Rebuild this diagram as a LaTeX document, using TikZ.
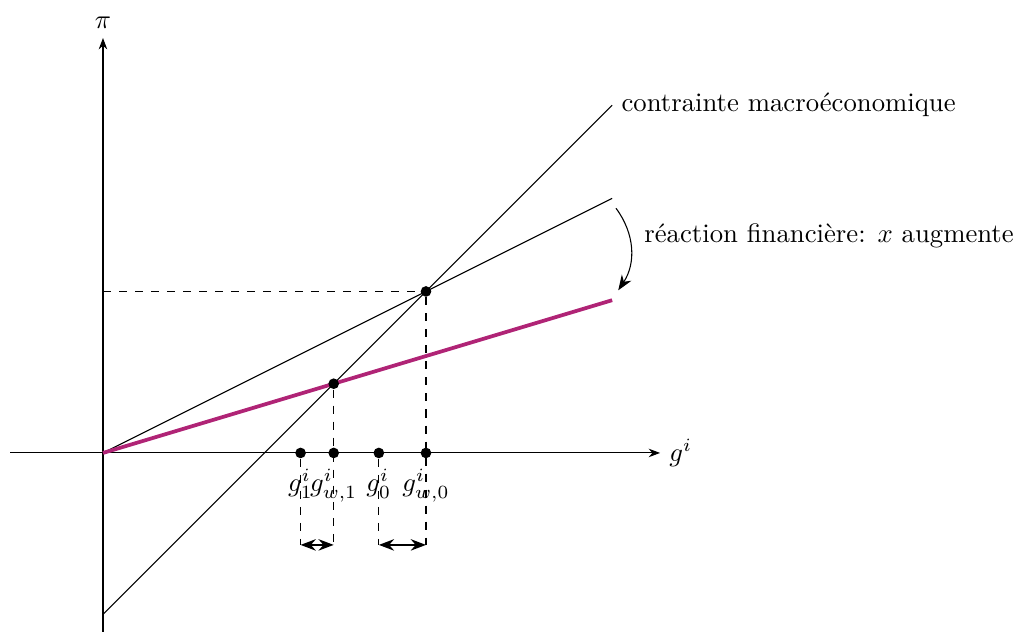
\documentclass[tikz,border=0pt]{standalone}
\usepackage{amsmath,amssymb}
\usepackage{tikz}
\usetikzlibrary{arrows.meta, positioning, calc}

\definecolor{finpurple}{RGB}{176,36,118}

\begin{document}
\begin{tikzpicture}[
    axis/.style={-{Stealth[length=1.5mm]}},
    guide/.style={dashed},
    dot/.style={circle, fill=black, inner sep=0pt, minimum size=1.4mm},
    gap/.style={{Stealth[length=2mm]}-{Stealth[length=2mm]}, thick},
    react/.style={draw=finpurple, line width=1.4pt}
]
\useasboundingbox (-1.355,-2.355) rectangle (12.04,5.96);

% axes
\coordinate (O) at (0,0);
\draw[axis] (-1.22,0) -- (7.33,0) node[right] (gaxis) {$g^i$};
\draw[axis] (0,-2.355) -- (0,5.46) node[above] (piaxis) {$\pi$};

% lines
\coordinate (macroStart) at (0,-2.125);
\coordinate (macroEnd) at (6.7,4.575);
\coordinate (upEnd) at (6.7,3.35);
\coordinate (lowEnd) at (6.7,2.01);
\coordinate (A) at (4.25,2.125);
\coordinate (B) at (3.036,0.911);

\draw (macroStart) -- (macroEnd) node[right] (macro) {contrainte macro\'economique};
\draw (O) -- (upEnd);
\draw[react] (O) -- (lowEnd);

% points on the axis
\node[dot] (pA) at (A) {};
\node[dot] (pB) at (B) {};
\node[dot] (g1) at (2.6,0) {};
\node[dot] (gw1) at (3.036,0) {};
\node[dot] (g0) at (3.63,0) {};
\node[dot] (gw0) at (4.25,0) {};

\node[below=1mm of g1, inner sep=1pt] (lg1) {$g^i_1$};
\node[below=1mm of gw1, inner sep=1pt] (lgw1) {$g^i_{w,1}$};
\node[below=1mm of g0, inner sep=1pt] (lg0) {$g^i_0$};
\node[below=1mm of gw0, inner sep=1pt] (lgw0) {$g^i_{w,0}$};

% guides
\coordinate (d1) at (2.6,-1.21);
\coordinate (dw1) at (3.036,-1.21);
\coordinate (d0) at (3.63,-1.21);
\coordinate (dw0) at (4.25,-1.21);
\draw[guide] (0,2.125) -- (pA);
\draw[guide] (pA) -- (dw0);
\draw[guide] (pB) -- (dw1);
\draw[guide] (g1) -- (d1);
\draw[guide] (g0) -- (d0);

\draw[gap] (d1) -- (dw1);
\draw[gap] (d0) -- (dw0);

% reaction
\coordinate (rTop) at (6.75,3.22);
\coordinate (rBot) at (6.78,2.14);
\draw[-{Stealth[length=2mm]}] (rTop) to[bend left=35] (rBot);
\node[right] (reac) at (7.0,2.86) {r\'eaction financi\`ere: $x$ augmente};
\end{tikzpicture}
\end{document}
